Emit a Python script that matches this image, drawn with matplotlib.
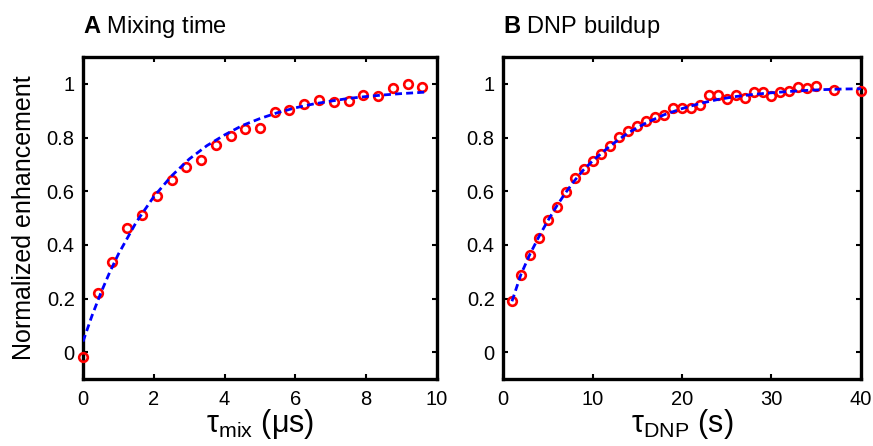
import matplotlib
matplotlib.use('Agg')
import matplotlib.pyplot as plt

plt.rcParams['font.family'] = ['Liberation Sans', 'DejaVu Sans']
plt.rcParams['mathtext.fontset'] = 'custom'
plt.rcParams['mathtext.rm'] = 'Liberation Sans'
plt.rcParams['mathtext.it'] = 'Liberation Sans:italic'
plt.rcParams['mathtext.bf'] = 'Liberation Sans:bold'

# panel A: mixing time (us)
mix_x = [0.0, 0.42, 0.83, 1.25, 1.67, 2.08, 2.5, 2.92, 3.33, 3.75, 4.17, 4.58,
         5.0, 5.42, 5.83, 6.25, 6.67, 7.08, 7.5, 7.92, 8.33, 8.75, 9.17, 9.58]
mix_y = [-0.019, 0.219, 0.335, 0.463, 0.513, 0.584, 0.641, 0.69, 0.716, 0.771,
         0.805, 0.833, 0.835, 0.895, 0.902, 0.924, 0.939, 0.934, 0.938, 0.959,
         0.955, 0.983, 1.001, 0.988]
mix_fit_x = [0.0, 0.25, 0.5, 0.75, 1.0, 1.5, 2.0, 2.5, 3.0, 3.5, 4.0, 4.5, 5.0,
             5.5, 6.0, 6.5, 7.0, 7.5, 8.0, 8.5, 9.0, 9.5, 9.7]
mix_fit_y = [0.04, 0.135, 0.22, 0.297, 0.366, 0.484, 0.58, 0.657, 0.72, 0.77,
             0.81, 0.845, 0.871, 0.893, 0.911, 0.925, 0.936, 0.946, 0.953, 0.959,
             0.964, 0.968, 0.97]

# panel B: DNP buildup (s)
dnp_x = list(range(1, 36)) + [37, 40]
dnp_y = [0.19, 0.287, 0.362, 0.425, 0.494, 0.543, 0.597, 0.649, 0.682, 0.711,
         0.739, 0.77, 0.802, 0.824, 0.845, 0.861, 0.877, 0.885, 0.911, 0.911,
         0.91, 0.923, 0.959, 0.959, 0.943, 0.959, 0.948, 0.971, 0.971, 0.955,
         0.97, 0.975, 0.988, 0.983, 0.994, 0.976, 0.973]
dnp_fit_x = [1, 2, 3, 4, 5, 6, 7, 8, 9, 10, 12, 14, 16, 18, 20, 22, 24, 26, 28,
             30, 32, 34, 36, 38, 40]
dnp_fit_y = [0.19, 0.29, 0.365, 0.43, 0.49, 0.545, 0.595, 0.64, 0.68, 0.713,
             0.77, 0.818, 0.855, 0.885, 0.908, 0.927, 0.942, 0.953, 0.961,
             0.967, 0.972, 0.976, 0.979, 0.981, 0.982]

y_ticks = [0, 0.2, 0.4, 0.6, 0.8, 1]
y_ticklabels = ['0', '0.2', '0.4', '0.6', '0.8', '1']


def style_axes(ax, xlim, xticks):
    ax.set_xlim(xlim)
    ax.set_ylim(-0.1, 1.1)
    ax.set_xticks(xticks)
    ax.set_yticks(y_ticks)
    ax.set_yticklabels(y_ticklabels)
    for s in ax.spines.values():
        s.set_linewidth(2.4)
    ax.tick_params(direction='in', top=True, right=True, length=3.5, width=1.5,
                   labelsize=14.5, pad=6)
    ax.tick_params(axis='x', pad=7.5)


fig = plt.figure(figsize=(8.73, 4.46), dpi=100)
ax1 = fig.add_axes([0.0951, 0.150, 0.4055, 0.722])
ax2 = fig.add_axes([0.5762, 0.150, 0.410, 0.722])

for ax, px, py, fx, fy in [(ax1, mix_x, mix_y, mix_fit_x, mix_fit_y),
                           (ax2, dnp_x, dnp_y, dnp_fit_x, dnp_fit_y)]:
    ax.plot(px, py, 'o', color='red', mfc='none', ms=6.2, mew=1.9, clip_on=False, zorder=3)
    ax.plot(fx, fy, color='blue', lw=2.0, linestyle=(0, (2.5, 1.5)), zorder=4)

style_axes(ax1, (0, 10), [0, 2, 4, 6, 8, 10])
style_axes(ax2, (0, 40), [0, 10, 20, 30, 40])

ax1.set_ylabel('Normalized enhancement', fontsize=18, labelpad=8)
ax1.set_xlabel(r'$\mathrm{\tau}_{\mathrm{mix}}$ (μs)', fontsize=22, labelpad=-1)
ax2.set_xlabel(r'$\mathrm{\tau}_{\mathrm{DNP}}$ (s)', fontsize=22, labelpad=-1)

ax1.text(0, 1.075, r'$\bf{A}$ Mixing time', transform=ax1.transAxes,
         fontsize=17, ha='left', va='baseline')
ax2.text(0, 1.075, r'$\bf{B}$ DNP buildup', transform=ax2.transAxes,
         fontsize=17, ha='left', va='baseline')

fig.savefig('out.png', dpi=100)
